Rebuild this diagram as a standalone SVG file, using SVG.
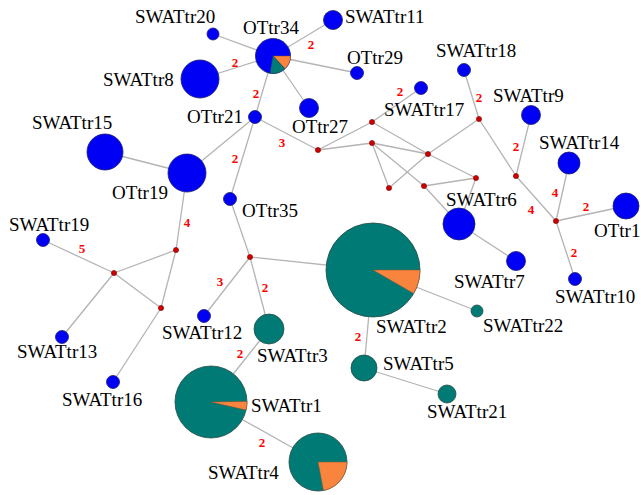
<svg xmlns="http://www.w3.org/2000/svg" width="641" height="495" viewBox="0 0 641 495">
<style>
.e{stroke:#b4b4b4;stroke-width:1.3;fill:none}
.b{fill:#0000f5;stroke:#1c1c70;stroke-width:0.8}
.t{fill:#007a74;stroke:#274a47;stroke-width:0.8}
.o{fill:#f8843e;stroke:#8a5030;stroke-width:0.5}
.m{fill:#cc0000;stroke:#8a0000;stroke-width:0.6}
.l{font-family:"Liberation Serif","Times New Roman",serif;font-size:19px;fill:#000}
.n{font-family:"Liberation Serif","Times New Roman",serif;font-size:13px;font-weight:bold;fill:#ff0000;text-anchor:middle}
</style>
<rect width="641" height="495" fill="#fff"/>
<g id="connectors">
<line class="e" x1="213" y1="34" x2="273" y2="56"/>
<line class="e" x1="200" y1="79" x2="273" y2="56"/>
<line class="e" x1="333" y1="20" x2="273" y2="56"/>
<line class="e" x1="357" y1="73" x2="273" y2="56"/>
<line class="e" x1="309" y1="108" x2="273" y2="56"/>
<line class="e" x1="255" y1="117" x2="273" y2="56"/>
<line class="e" x1="255" y1="117" x2="187" y2="173"/>
<line class="e" x1="255" y1="117" x2="230" y2="199"/>
<line class="e" x1="255" y1="117" x2="318" y2="150"/>
<line class="e" x1="318" y1="150" x2="372" y2="122"/>
<line class="e" x1="318" y1="150" x2="372" y2="143"/>
<line class="e" x1="372" y1="122" x2="421" y2="88"/>
<line class="e" x1="372" y1="122" x2="428" y2="154"/>
<line class="e" x1="372" y1="143" x2="428" y2="154"/>
<line class="e" x1="372" y1="143" x2="389" y2="188"/>
<line class="e" x1="372" y1="143" x2="424" y2="186"/>
<line class="e" x1="389" y1="188" x2="428" y2="154"/>
<line class="e" x1="428" y1="154" x2="479" y2="119"/>
<line class="e" x1="428" y1="154" x2="476" y2="178"/>
<line class="e" x1="424" y1="186" x2="476" y2="178"/>
<line class="e" x1="424" y1="186" x2="459" y2="224"/>
<line class="e" x1="476" y1="178" x2="459" y2="224"/>
<line class="e" x1="459" y1="224" x2="516" y2="261"/>
<line class="e" x1="464" y1="70" x2="479" y2="119"/>
<line class="e" x1="479" y1="119" x2="516" y2="176"/>
<line class="e" x1="516" y1="176" x2="531" y2="115"/>
<line class="e" x1="516" y1="176" x2="556" y2="221"/>
<line class="e" x1="556" y1="221" x2="569" y2="163"/>
<line class="e" x1="556" y1="221" x2="626" y2="206"/>
<line class="e" x1="556" y1="221" x2="575" y2="279"/>
<line class="e" x1="187" y1="173" x2="105" y2="152"/>
<line class="e" x1="187" y1="173" x2="176" y2="250"/>
<line class="e" x1="176" y1="250" x2="114" y2="273"/>
<line class="e" x1="176" y1="250" x2="161" y2="308"/>
<line class="e" x1="114" y1="273" x2="43" y2="240"/>
<line class="e" x1="114" y1="273" x2="62" y2="337"/>
<line class="e" x1="114" y1="273" x2="161" y2="308"/>
<line class="e" x1="161" y1="308" x2="113" y2="382"/>
<line class="e" x1="230" y1="199" x2="250" y2="257"/>
<line class="e" x1="250" y1="257" x2="204" y2="316"/>
<line class="e" x1="250" y1="257" x2="269" y2="329"/>
<line class="e" x1="250" y1="257" x2="373" y2="270"/>
<line class="e" x1="269" y1="329" x2="211" y2="402"/>
<line class="e" x1="211" y1="402" x2="318" y2="462"/>
<line class="e" x1="373" y1="270" x2="477" y2="311"/>
<line class="e" x1="373" y1="270" x2="364" y2="368"/>
<line class="e" x1="364" y1="368" x2="447" y2="394"/>
</g>
<g id="edge-labels">
<text class="n" x="235" y="67">2</text>
<text class="n" x="311" y="49">2</text>
<text class="n" x="256" y="98">2</text>
<text class="n" x="235" y="163">2</text>
<text class="n" x="282" y="147">3</text>
<text class="n" x="400" y="96">2</text>
<text class="n" x="479" y="102">2</text>
<text class="n" x="516" y="151">2</text>
<text class="n" x="531" y="214">4</text>
<text class="n" x="555" y="197">4</text>
<text class="n" x="586" y="211">2</text>
<text class="n" x="574" y="257">2</text>
<text class="n" x="187" y="227">4</text>
<text class="n" x="82" y="253">5</text>
<text class="n" x="220" y="286">3</text>
<text class="n" x="265" y="292">2</text>
<text class="n" x="240" y="358">2</text>
<text class="n" x="262" y="447">2</text>
<text class="n" x="358" y="341">2</text>
</g>
<g id="medians">
<circle class="m" cx="372" cy="122" r="2.6"/>
<circle class="m" cx="318" cy="150" r="2.6"/>
<circle class="m" cx="372" cy="143" r="2.6"/>
<circle class="m" cx="428" cy="154" r="2.6"/>
<circle class="m" cx="479" cy="119" r="2.6"/>
<circle class="m" cx="476" cy="178" r="2.6"/>
<circle class="m" cx="424" cy="186" r="2.6"/>
<circle class="m" cx="389" cy="188" r="2.6"/>
<circle class="m" cx="516" cy="176" r="2.6"/>
<circle class="m" cx="556" cy="221" r="2.6"/>
<circle class="m" cx="176" cy="250" r="2.6"/>
<circle class="m" cx="114" cy="273" r="2.6"/>
<circle class="m" cx="161" cy="308" r="2.6"/>
<circle class="m" cx="250" cy="257" r="2.6"/>
</g>
<g id="SWATtr20"><circle class="b" cx="213" cy="34" r="6"/><text class="l" x="135" y="23">SWATtr20</text></g>
<g id="OTtr34"><circle class="b" cx="273" cy="56" r="17.5"/>
<path class="o" d="M273,56 L290.5,56 A17.5,17.5 0 0 1 284.9,68.8 Z"/>
<path class="t" style="stroke-width:0.4" d="M273,56 L284.9,68.8 A17.5,17.5 0 0 1 270,73.2 Z"/>
<text class="l" x="243" y="34">OTtr34</text></g>
<g id="SWATtr11"><circle class="b" cx="333" cy="20" r="9.5"/><text class="l" x="345" y="23">SWATtr11</text></g>
<g id="OTtr29"><circle class="b" cx="357" cy="73" r="6.5"/><text class="l" x="347" y="64">OTtr29</text></g>
<g id="SWATtr8"><circle class="b" cx="200" cy="79" r="19"/><text class="l" x="103" y="86">SWATtr8</text></g>
<g id="OTtr27"><circle class="b" cx="309" cy="108" r="9.5"/><text class="l" x="292" y="133">OTtr27</text></g>
<g id="OTtr21"><circle class="b" cx="255" cy="117" r="6.5"/><text class="l" x="187" y="123">OTtr21</text></g>
<g id="SWATtr15"><circle class="b" cx="105" cy="152" r="18"/><text class="l" x="32" y="129">SWATtr15</text></g>
<g id="OTtr19"><circle class="b" cx="187" cy="173" r="19"/><text class="l" x="112" y="199">OTtr19</text></g>
<g id="OTtr35"><circle class="b" cx="230" cy="199" r="6.5"/><text class="l" x="242" y="217">OTtr35</text></g>
<g id="SWATtr19"><circle class="b" cx="43" cy="240" r="6.5"/><text class="l" x="9" y="231">SWATtr19</text></g>
<g id="SWATtr13"><circle class="b" cx="62" cy="337" r="6.5"/><text class="l" x="17" y="358">SWATtr13</text></g>
<g id="SWATtr16"><circle class="b" cx="113" cy="382" r="6.5"/><text class="l" x="62" y="406">SWATtr16</text></g>
<g id="SWATtr12"><circle class="b" cx="204" cy="316" r="6.5"/><text class="l" x="162" y="339">SWATtr12</text></g>
<g id="SWATtr17"><circle class="b" cx="421" cy="88" r="6.5"/><text class="l" x="384" y="116">SWATtr17</text></g>
<g id="SWATtr18"><circle class="b" cx="464" cy="70" r="6.5"/><text class="l" x="436" y="57">SWATtr18</text></g>
<g id="SWATtr9"><circle class="b" cx="531" cy="115" r="9.5"/><text class="l" x="493" y="102">SWATtr9</text></g>
<g id="SWATtr14"><circle class="b" cx="569" cy="163" r="11"/><text class="l" x="539" y="149">SWATtr14</text></g>
<g id="OTtr1"><circle class="b" cx="626" cy="206" r="13"/><text class="l" x="594" y="237">OTtr1</text></g>
<g id="SWATtr6"><circle class="b" cx="459" cy="224" r="16"/><text class="l" x="446" y="206">SWATtr6</text></g>
<g id="SWATtr7"><circle class="b" cx="516" cy="261" r="9.5"/><text class="l" x="454" y="288">SWATtr7</text></g>
<g id="SWATtr10"><circle class="b" cx="575" cy="279" r="6.5"/><text class="l" x="555" y="303">SWATtr10</text></g>
<g id="SWATtr2"><circle class="t" cx="373" cy="270" r="47"/>
<path class="o" d="M373,270 L420,270 A47,47 0 0 1 413.7,293.5 Z"/>
<text class="l" x="376" y="333">SWATtr2</text></g>
<g id="SWATtr22"><circle class="t" cx="477" cy="311" r="6"/><text class="l" x="483" y="332">SWATtr22</text></g>
<g id="SWATtr5"><circle class="t" cx="364" cy="368" r="13"/><text class="l" x="383" y="370">SWATtr5</text></g>
<g id="SWATtr21"><circle class="t" cx="447" cy="394" r="9"/><text class="l" x="427" y="418">SWATtr21</text></g>
<g id="SWATtr3"><circle class="t" cx="269" cy="329" r="15"/><text class="l" x="257" y="362">SWATtr3</text></g>
<g id="SWATtr1"><circle class="t" cx="211" cy="402" r="36"/>
<path class="o" d="M211,402 L247,401.4 A36,36 0 0 1 246.1,410.1 Z"/>
<text class="l" x="251" y="412">SWATtr1</text></g>
<g id="SWATtr4"><circle class="t" cx="318" cy="462" r="29"/>
<path class="o" d="M318,462 L347,462 A29,29 0 0 1 323.5,490.5 Z"/>
<text class="l" x="208" y="479">SWATtr4</text></g>
</svg>
